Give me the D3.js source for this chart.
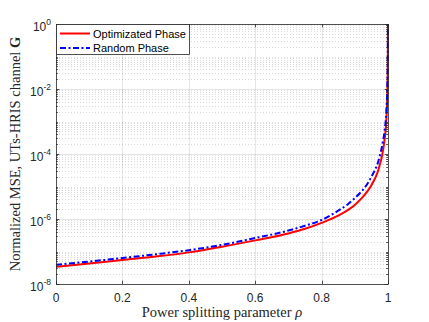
<!DOCTYPE html>
<html>
<head>
<meta charset="utf-8">
<script src="https://cdn.jsdelivr.net/npm/d3@7"></script>
<style>
  body { margin: 0; background: #fff; }
  svg { display: block; }
</style>
</head>
<body>
<svg width="429" height="322"></svg>
<script>
// data
var rho = [0, 0.1, 0.2, 0.3, 0.4, 0.5, 0.6, 0.7, 0.75, 0.8, 0.85, 0.88, 0.9, 0.92, 0.94, 0.95,
           0.96, 0.97, 0.976, 0.98, 0.985, 0.99, 0.995, 0.998, 0.999, 0.9995, 0.9998, 1];
var mseOpt = [3.4e-8, 4.3e-8, 5.5e-8, 7.0e-8, 9.4e-8, 1.4e-7, 2.2e-7, 3.6e-7, 5.0e-7, 7.6e-7,
              1.26e-6, 1.9e-6, 2.7e-6, 4.3e-6, 7.6e-6, 1.1e-5,
              1.7e-5, 3.0e-5, 5.0e-5, 7.0e-5, 1.3e-4, 2.9e-4, 1.1e-3, 7e-3, 2.8e-2, 0.11, 0.7, 1];
var mseRand = [3.9e-8, 4.9e-8, 6.3e-8, 8.2e-8, 1.1e-7, 1.6e-7, 2.6e-7, 4.4e-7, 6.2e-7, 9.3e-7,
               1.8e-6, 2.9e-6, 4.4e-6, 7.0e-6, 1.3e-5, 2.0e-5,
               3.1e-5, 5.6e-5, 9.3e-5, 1.4e-4, 2.5e-4, 5.5e-4, 2.1e-3, 1.3e-2, 5e-2, 0.2, 0.8, 1];

var xTicks = [0, 0.2, 0.4, 0.6, 0.8, 1];
var xTickLabels = ["0", "0.2", "0.4", "0.6", "0.8", "1"];
var yTicks = [1e-8, 1e-6, 1e-4, 1e-2, 1];
var yTickExp = ["-8", "-6", "-4", "-2", "0"];
var seriesNames = ["Optimizated Phase", "Random Phase"];

var svg = d3.select("svg");

// axes box ("top" is taken by window.top, so use other names)
var pLeft = 56, pRight = 388, pTop = 24, pBottom = 284;
var axisColor = "#262626";

var x = d3.scaleLinear().domain([0, 1]).range([pLeft, pRight]);
var y = d3.scaleLog().domain([1e-8, 1]).range([pBottom, pTop]);

// minor grid values (every m*10^k that is not a major tick)
var yMinor = [];
for (var k = -8; k < 0; k++) {
    for (var m = 1; m <= 9; m++) {
        if (m === 1 && k % 2 === 0) continue;
        yMinor.push(m * Math.pow(10, k));
    }
}

// minor grid (dotted)
svg.append("g")
    .selectAll("line")
    .data(yMinor)
    .enter()
    .append("line")
    .attr("x1", pLeft).attr("x2", pRight)
    .attr("y1", function (d) { return Math.round(y(d)) + 0.5; })
    .attr("y2", function (d) { return Math.round(y(d)) + 0.5; })
    .style("stroke", axisColor)
    .style("stroke-opacity", 0.17)
    .style("stroke-width", 1)
    .style("stroke-dasharray", "1,2");

// major grid
svg.append("g")
    .selectAll("line")
    .data(yTicks.slice(1, -1))
    .enter()
    .append("line")
    .attr("x1", pLeft).attr("x2", pRight)
    .attr("y1", function (d) { return Math.round(y(d)) + 0.5; })
    .attr("y2", function (d) { return Math.round(y(d)) + 0.5; })
    .style("stroke", axisColor)
    .style("stroke-opacity", 0.12)
    .style("stroke-width", 1);

svg.append("g")
    .selectAll("line")
    .data(xTicks.slice(1, -1))
    .enter()
    .append("line")
    .attr("y1", pTop).attr("y2", pBottom)
    .attr("x1", function (d) { return Math.round(x(d)) + 0.5; })
    .attr("x2", function (d) { return Math.round(x(d)) + 0.5; })
    .style("stroke", axisColor)
    .style("stroke-opacity", 0.12)
    .style("stroke-width", 1);

// curves
svg.append("clipPath").attr("id", "plotClip")
    .append("rect")
    .attr("x", pLeft).attr("y", pTop - 1)
    .attr("width", pRight - pLeft + 1).attr("height", pBottom - pTop + 1);

var line = d3.line()
    .x(function (d) { return x(d[0]); })
    .y(function (d) { return y(d[1]); })
    .curve(d3.curveMonotoneX);

var plot = svg.append("g").attr("clip-path", "url(#plotClip)");

plot.append("path")
    .datum(d3.zip(rho, mseOpt))
    .attr("d", line)
    .style("fill", "none")
    .style("stroke", "#ff0000")
    .style("stroke-width", 2);

plot.append("path")
    .datum(d3.zip(rho, mseRand))
    .attr("d", line)
    .style("fill", "none")
    .style("stroke", "#0000ff")
    .style("stroke-width", 2)
    .style("stroke-dasharray", "6,2.5,2,2.5");

// frame
svg.append("rect")
    .attr("x", pLeft + 0.5).attr("y", pTop + 0.5)
    .attr("width", pRight - pLeft).attr("height", pBottom - pTop)
    .style("fill", "none")
    .style("stroke", axisColor)
    .style("stroke-width", 0.8);

// ticks (inward, bottom+top, left+right)
var ticks = svg.append("g").style("stroke", axisColor).style("stroke-width", 0.8);
xTicks.forEach(function (d) {
    var px = Math.round(x(d)) + 0.5;
    ticks.append("line").attr("x1", px).attr("x2", px).attr("y1", pBottom).attr("y2", pBottom - 3.3);
    ticks.append("line").attr("x1", px).attr("x2", px).attr("y1", pTop).attr("y2", pTop + 3.3);
});
yTicks.forEach(function (d) {
    var py = Math.round(y(d)) + 0.5;
    ticks.append("line").attr("y1", py).attr("y2", py).attr("x1", pLeft).attr("x2", pLeft + 3.3);
    ticks.append("line").attr("y1", py).attr("y2", py).attr("x1", pRight).attr("x2", pRight - 3.3);
});
yMinor.forEach(function (d) {
    var py = Math.round(y(d)) + 0.5;
    ticks.append("line").attr("y1", py).attr("y2", py).attr("x1", pLeft).attr("x2", pLeft + 1.8);
    ticks.append("line").attr("y1", py).attr("y2", py).attr("x1", pRight).attr("x2", pRight - 1.8);
});

// tick labels
svg.append("g")
    .selectAll("text")
    .data(xTicks)
    .enter()
    .append("text")
    .attr("x", function (d) { return x(d); })
    .attr("y", 302)
    .attr("text-anchor", "middle")
    .attr("font-family", "Liberation Sans, Arial, sans-serif")
    .attr("font-size", "12px")
    .attr("fill", axisColor)
    .text(function (d, i) { return xTickLabels[i]; });

var yl = svg.append("g")
    .selectAll("text")
    .data(yTicks)
    .enter()
    .append("text")
    .attr("x", 51)
    .attr("y", function (d) { return y(d) + 6.5; })
    .attr("text-anchor", "end")
    .attr("font-family", "Liberation Sans, Arial, sans-serif")
    .attr("font-size", "12px")
    .attr("fill", axisColor);
yl.append("tspan").text("10");
yl.append("tspan")
    .attr("dy", -6)
    .attr("font-size", "8.5px")
    .text(function (d, i) { return yTickExp[i]; });

// axis labels
svg.append("text")
    .attr("x", (pLeft + pRight) / 2)
    .attr("y", 317)
    .attr("text-anchor", "middle")
    .attr("font-family", "Liberation Serif, Times New Roman, serif")
    .attr("font-size", "14.5px")
    .attr("fill", axisColor)
    .html('Power splitting parameter <tspan font-style="italic">\u03c1</tspan>');

svg.append("text")
    .attr("transform", "translate(20," + ((pTop + pBottom) / 2) + ") rotate(-90)")
    .attr("text-anchor", "middle")
    .attr("font-family", "Liberation Serif, Times New Roman, serif")
    .attr("font-size", "14.5px")
    .attr("fill", axisColor)
    .html('Normalized MSE, UTs-HRIS channel <tspan font-weight="bold">G</tspan>');

// legend
var legend = svg.append("g");
legend.append("rect")
    .attr("x", pLeft + 0.5).attr("y", pTop + 0.5)
    .attr("width", 133).attr("height", 30)
    .style("fill", "#fff")
    .style("stroke", axisColor)
    .style("stroke-width", 0.8);

var legendStyles = [
    {color: "#ff0000", dash: null},
    {color: "#0000ff", dash: "6,2.5,2,2.5"}
];
seriesNames.forEach(function (name, i) {
    var ly = pTop + 9.5 + i * 14.5;
    legend.append("line")
        .attr("x1", 60).attr("x2", 90)
        .attr("y1", ly).attr("y2", ly)
        .style("stroke", legendStyles[i].color)
        .style("stroke-width", 2)
        .style("stroke-dasharray", legendStyles[i].dash);
    legend.append("text")
        .attr("x", 93)
        .attr("y", ly + 4)
        .attr("font-family", "Liberation Sans, Arial, sans-serif")
        .attr("font-size", "11px")
        .attr("fill", "#000")
        .text(name);
});
</script>
</body>
</html>
